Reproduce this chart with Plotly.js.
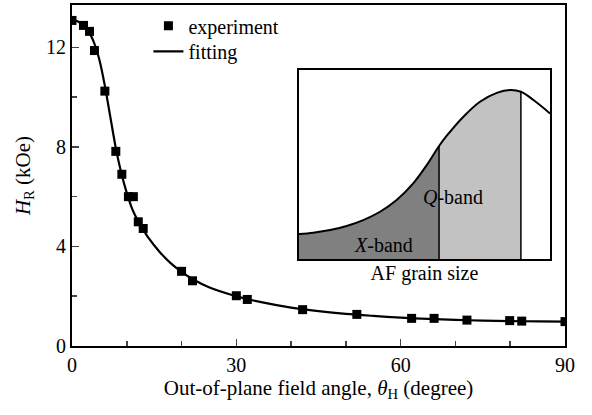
<!DOCTYPE html>
<html>
<head>
<meta charset="utf-8">
<script src="https://cdn.plot.ly/plotly-3.0.1.min.js"></script>
<style>
html,body{margin:0;padding:0;background:#fff;}
#chart{width:592px;height:415px;}
#chart svg text{font-family:'Liberation Serif','Times New Roman',serif !important;}
</style>
</head>
<body>
<div id="chart"></div>
<script>
// Experimental points
const expAngle = [0, 2.1, 3.2, 4.1, 6.0, 8.0, 9.1, 10.3, 11.2, 12.1, 13.0, 20.0, 22.0, 30.0, 32.0, 42.1, 52.0, 62.0, 66.1, 72.1, 79.9, 82.1, 90];
const expHR    = [13.08, 12.88, 12.64, 11.87, 10.24, 7.82, 6.9, 6.0, 6.0, 4.99, 4.72, 3.0, 2.62, 2.02, 1.87, 1.46, 1.27, 1.11, 1.11, 1.04, 1.02, 1.0, 0.98];
// Fitting curve
const fitAngle = [0, 1, 2, 3, 4, 5, 6, 7, 8, 9, 10, 11, 12, 13, 14, 16, 18, 20, 22, 25, 30, 35, 40, 45, 50, 55, 60, 65, 70, 75, 80, 85, 90];
const fitHR    = [13.1, 13.05, 12.9, 12.65, 12.2, 11.5, 10.45, 9.2, 7.95, 6.95, 6.15, 5.5, 5.05, 4.68, 4.33, 3.78, 3.33, 2.98, 2.69, 2.36, 2.0, 1.74, 1.54, 1.4, 1.29, 1.21, 1.14, 1.09, 1.05, 1.02, 1.0, 0.99, 0.98];
// Inset: AF grain size distribution (schematic)
const grainSize = [0, 5.7, 12.4, 19.0, 25.6, 32.3, 38.9, 45.5, 50.9, 55.8, 58.8, 65.5, 72.1, 78.8, 84.1, 88.4, 93.4, 100];
const grainDist = [13.2, 13.9, 15.3, 17.5, 20.6, 25.0, 31.2, 40.0, 49.7, 59.8, 65.1, 75.3, 83.2, 87.9, 89.4, 88.5, 84.1, 77.0];
const xBandEnd = 55.8;
const qBandEnd = 88.4;
const xTicks = [0, 30, 60, 90];
const yTicks = [0, 4, 8, 12];

const FONT_FAMILY = 'Liberation Serif';

function segment(lo, hi) {
  const xs = [], ys = [];
  for (let i = 0; i < grainSize.length; i++) {
    if (grainSize[i] >= lo - 1e-9 && grainSize[i] <= hi + 1e-9) { xs.push(grainSize[i]); ys.push(grainDist[i]); }
  }
  return {xs, ys};
}
function valAt(x) {
  return grainDist[grainSize.indexOf(x)];
}
const xb = segment(0, xBandEnd);
const qb = segment(xBandEnd, qBandEnd);

const traces = [
  {x: xb.xs, y: xb.ys, xaxis: 'x2', yaxis: 'y2', type: 'scatter', mode: 'lines', fill: 'tozeroy',
   fillcolor: '#808080', line: {width: 0, shape: 'spline'}, showlegend: false, hoverinfo: 'skip'},
  {x: qb.xs, y: qb.ys, xaxis: 'x2', yaxis: 'y2', type: 'scatter', mode: 'lines', fill: 'tozeroy',
   fillcolor: '#c2c2c2', line: {width: 0, shape: 'spline'}, showlegend: false, hoverinfo: 'skip'},
  {x: grainSize, y: grainDist, xaxis: 'x2', yaxis: 'y2', type: 'scatter', mode: 'lines',
   line: {color: '#000', width: 2, shape: 'spline'}, showlegend: false},
  {x: [xBandEnd, xBandEnd], y: [0, valAt(xBandEnd)], xaxis: 'x2', yaxis: 'y2', type: 'scatter', mode: 'lines',
   line: {color: '#000', width: 1.5}, showlegend: false},
  {x: [qBandEnd, qBandEnd], y: [0, valAt(qBandEnd)], xaxis: 'x2', yaxis: 'y2', type: 'scatter', mode: 'lines',
   line: {color: '#000', width: 1.5}, showlegend: false},
  {x: expAngle, y: expHR, type: 'scatter', mode: 'markers', name: 'experiment', legend: 'legend',
   marker: {symbol: 'square', size: 9, color: '#000'}},
  {x: fitAngle, y: fitHR, type: 'scatter', mode: 'lines', name: 'fitting', legend: 'legend2',
   line: {color: '#000', width: 2.2, shape: 'spline', smoothing: 0.8}}
];

const legendStyle = {xanchor: 'left', yanchor: 'top', bgcolor: 'rgba(0,0,0,0)',
  font: {family: FONT_FAMILY, size: 20, color: '#000'}};

const layout = {
  width: 592, height: 415,
  margin: {l: 72, r: 27, t: 5, b: 69},
  paper_bgcolor: '#fff', plot_bgcolor: '#fff',
  font: {family: FONT_FAMILY, size: 20, color: '#000'},
  xaxis: {
    range: [0, 90], tickvals: xTicks, ticks: 'inside', ticklen: 7, tickwidth: 1.5,
    minor: {dtick: 10, ticks: 'inside', ticklen: 5, tickwidth: 1.5},
    showline: true, linewidth: 2, linecolor: '#000', mirror: true, showgrid: false, zeroline: false,
    tickfont: {family: FONT_FAMILY, size: 20, color: '#000'},
    title: {text: 'Out-of-plane field angle, <i>θ</i><sub>H</sub> (degree)', font: {family: FONT_FAMILY, size: 21, color: '#000'}, standoff: 2}
  },
  yaxis: {
    range: [0, 13.7], tickvals: yTicks, ticks: 'inside', ticklen: 7, tickwidth: 1.5,
    minor: {dtick: 2, ticks: 'inside', ticklen: 5, tickwidth: 1.5},
    showline: true, linewidth: 2, linecolor: '#000', mirror: true, showgrid: false, zeroline: false,
    tickfont: {family: FONT_FAMILY, size: 20, color: '#000'},
    title: {text: '<i>H</i><sub>R</sub> (kOe)', font: {family: FONT_FAMILY, size: 21, color: '#000'}, standoff: 10}
  },
  xaxis2: {
    domain: [0.4604, 0.9696], anchor: 'y2', range: [0, 100], showticklabels: false, ticks: '',
    showline: true, linewidth: 1.5, linecolor: '#000', mirror: true, showgrid: false, zeroline: false,
    title: {text: 'AF grain size', font: {family: FONT_FAMILY, size: 20, color: '#000'}, standoff: 6}
  },
  yaxis2: {
    domain: [0.2551, 0.8094], anchor: 'x2', range: [0, 100], showticklabels: false, ticks: '',
    showline: true, linewidth: 1.5, linecolor: '#000', mirror: true, showgrid: false, zeroline: false
  },
  legend: Object.assign({x: 0.155, y: 0.996}, legendStyle),
  legend2: Object.assign({x: 0.155, y: 0.921}, legendStyle),
  annotations: [
    {xref: 'x2', yref: 'y2', x: 33.6, y: 7.4, text: '<i>X</i>-band', showarrow: false, font: {family: FONT_FAMILY, size: 20, color: '#000'}},
    {xref: 'x2', yref: 'y2', x: 61.5, y: 32.8, text: '<i>Q</i>-band', showarrow: false, font: {family: FONT_FAMILY, size: 20, color: '#000'}}
  ]
};

Plotly.newPlot('chart', traces, layout, {displayModeBar: false, staticPlot: true});
</script>
</body>
</html>
